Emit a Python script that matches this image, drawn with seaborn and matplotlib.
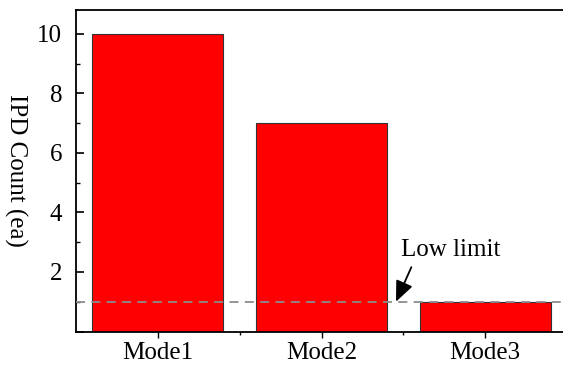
import matplotlib
matplotlib.use("Agg")
import matplotlib.pyplot as plt
import seaborn as sns
import pandas as pd
from matplotlib.ticker import FixedLocator, FuncFormatter

categories = ["Mode1", "Mode2", "Mode3"]
counts = [10, 7, 1]
low_limit = 1
y_ticks = [0, 2, 4, 6, 8, 10]
y_minor = [1, 3, 5, 7, 9]

df = pd.DataFrame({"mode": categories, "count": counts})

sns.set_style("ticks")
plt.rcParams["font.family"] = ["Liberation Serif", "DejaVu Serif"]
plt.rcParams["text.color"] = "black"
plt.rcParams["axes.labelcolor"] = "black"
plt.rcParams["xtick.color"] = "black"
plt.rcParams["ytick.color"] = "black"

fig = plt.figure(figsize=(5.63, 3.65), dpi=100)
ax = fig.add_axes([76 / 563, 1 - 331.5 / 365, (567 - 76) / 563, (331.5 - 10) / 365])

sns.barplot(data=df, x="mode", y="count", ax=ax, color="#FF0000", saturation=1,
            width=0.8, edgecolor="#333333", linewidth=0.8)

ax.axhline(low_limit, color="#8c8c8c", lw=1.3, ls=(0, (5, 3.5)), zorder=3)

ax.set_xlim(-0.5, 2.5)
ax.set_ylim(0, 10.8)
ax.yaxis.set_major_locator(FixedLocator(y_ticks))
ax.yaxis.set_minor_locator(FixedLocator(y_minor))
ax.yaxis.set_major_formatter(FuncFormatter(lambda v, p: "" if v == 0 else f"{v:g}"))
ax.xaxis.set_minor_locator(FixedLocator([0.5, 1.5]))

ax.tick_params(axis="y", which="major", direction="in", length=6, width=1.2, labelsize=18, pad=10)
ax.tick_params(axis="y", which="minor", direction="in", length=3, width=1.0)
ax.tick_params(axis="x", which="major", direction="out", length=4.5, width=1.0, labelsize=18, pad=3)
ax.tick_params(axis="x", which="minor", direction="out", length=2.5, width=1.0)

for s in ax.spines.values():
    s.set_linewidth(1.3)
    s.set_color("black")

ax.set_xlabel("")
ax.set_ylabel("IPD Count (ea)", fontsize=18, rotation=270, va="center", labelpad=6)
ax.yaxis.set_label_coords(-76 / 491 + 16 / 491, 0.5)

ax.text(1.488, 2.74, "Low limit", fontsize=18, ha="left", va="center")
ax.annotate("", xy=(1.455, 1.0), xytext=(1.549, 2.16),
            arrowprops=dict(arrowstyle="-|>,head_length=0.7,head_width=0.3", color="black",
                            lw=1.3, mutation_scale=18, shrinkA=0, shrinkB=0))

fig.savefig("out.png", dpi=100)
